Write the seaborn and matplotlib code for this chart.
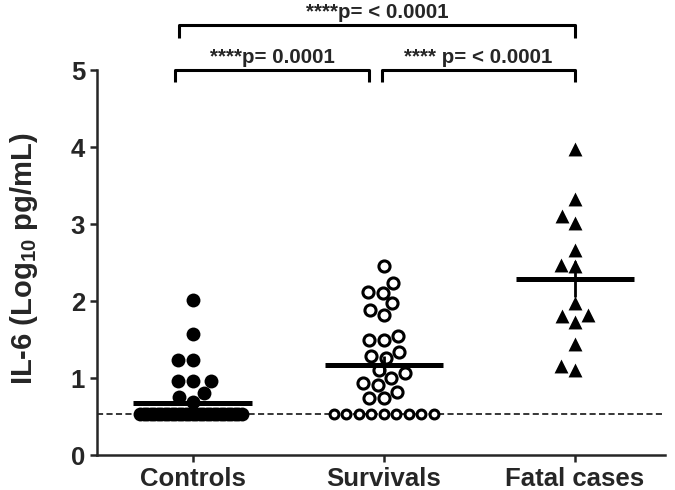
import numpy as np
import pandas as pd
import matplotlib
matplotlib.use('Agg')
import matplotlib.pyplot as plt
import seaborn as sns

sns.set_style('ticks')
plt.rcParams['font.family'] = ['Liberation Sans', 'DejaVu Sans']
plt.rcParams['font.weight'] = 'bold'
plt.rcParams['mathtext.fontset'] = 'custom'
plt.rcParams['mathtext.rm'] = 'Liberation Sans:bold'
plt.rcParams['mathtext.bf'] = 'Liberation Sans:bold'
plt.rcParams['mathtext.it'] = 'Liberation Sans:bold'
plt.rcParams['mathtext.default'] = 'bf'

# data (log10 pg/mL)
groups = ['Controls', 'Survivals', 'Fatal cases']
lod = 0.53
controls_detected = [2.01, 1.57, 1.23, 1.23, 0.96, 0.96, 0.96, 0.80, 0.75, 0.69]
controls_lod = [0.53, 0.53, 0.53, 0.53, 0.53, 0.53, 0.53, 0.53, 0.53, 0.53,
                0.53, 0.53, 0.53, 0.53, 0.53, 0.53, 0.53, 0.53, 0.53, 0.53,
                0.53, 0.53, 0.53, 0.53, 0.53, 0.53, 0.53, 0.53, 0.53, 0.53]
survivals_detected = [2.45, 2.24, 2.12, 2.11, 1.97, 1.88, 1.82, 1.55, 1.49, 1.49,
                      1.34, 1.28, 1.26, 1.10, 1.06, 1.00, 0.93, 0.91, 0.82, 0.74,
                      0.74]
survivals_lod = [0.53, 0.53, 0.53, 0.53, 0.53, 0.53, 0.53, 0.53, 0.53]
fatal = [3.98, 3.33, 3.10, 3.01, 2.66, 2.47, 2.45, 1.98, 1.82, 1.80,
         1.73, 1.44, 1.15, 1.10]

# comparisons: (left, right, bracket height, label)
comparisons = [(-0.09, 0.92, 5.0, '****p= 0.0001'),
               (0.99, 2.0, 5.0, '**** p= < 0.0001'),
               (-0.07, 2.0, 5.58, '****p= < 0.0001')]

def frame(name, vals):
    return pd.DataFrame({'group': name, 'value': vals})

def swarm(vals, name, **kw):
    # returns the PathCollection that seaborn adds
    n = len(ax.collections)
    sns.swarmplot(data=frame(name, vals), x='group', y='value', order=groups,
                  ax=ax, zorder=3, **kw)
    return ax.collections[n]

fig = plt.figure(figsize=(6.75, 4.9), dpi=100)
ax = fig.add_axes([0.1437, 0.0714, 0.8413, 0.7857])

ax.axhline(lod, color='black', ls=(0, (4, 2.2)), lw=1.1, zorder=1)

# points at the detection limit are packed tighter (overlapping), like Prism does
c_lod = swarm(controls_lod, 'Controls', color='black', size=2.4, linewidth=0)
swarm(controls_detected, 'Controls', color='black', size=10, linewidth=0)
s_lod = swarm(survivals_lod, 'Survivals', color='white', edgecolor='black',
              linewidth=2.2, size=6.4)
swarm(survivals_detected, 'Survivals', color='white', edgecolor='black',
      linewidth=2.2, size=8)
swarm(fatal, 'Fatal cases', color='black', marker='^', size=10, linewidth=0)

# mean +/- SEM
all_groups = [controls_detected + controls_lod, survivals_detected + survivals_lod, fatal]
for i, vals in enumerate(all_groups):
    m = np.mean(vals)
    se = np.std(vals, ddof=1) / np.sqrt(len(vals))
    ax.hlines(m, i - 0.31, i + 0.31, color='black', lw=3.6, zorder=5)
    ax.errorbar(i, m, yerr=se, color='black', lw=2, capsize=0, zorder=5)

for x0, x1, y, txt in comparisons:
    ax.plot([x0, x0, x1, x1], [y - 0.16, y, y, y - 0.16], color='black', lw=2.2,
            clip_on=False, solid_capstyle='butt')
    ax.text((x0 + x1) / 2, y + 0.09, txt, ha='center', va='baseline', fontsize=14.8,
            fontweight='bold')

ax.set_xlim(-0.5, 2.47)
ax.set_ylim(0, 5)
ax.set_yticks(range(6))
ax.set_xlabel('')
ax.set_ylabel(r'IL-6 (Log$_{10}$ pg/mL)', fontsize=21, fontweight='bold')
ax.yaxis.set_label_coords(-0.10, 0.51)
ax.tick_params(width=1.8, length=5, labelsize=18.5)
for lab in ax.get_xticklabels() + ax.get_yticklabels():
    lab.set_fontweight('bold')
sns.despine(ax=ax)
for s in ['left', 'bottom']:
    ax.spines[s].set_linewidth(1.8)

# lay out the swarms once, then keep those positions and enlarge the LOD markers
fig.canvas.draw()
for coll, sz in [(c_lod, 10), (s_lod, 8)]:
    if 'draw' in coll.__dict__:
        del coll.draw
    coll.set_sizes([sz ** 2])

fig.savefig('out.png', dpi=100)
